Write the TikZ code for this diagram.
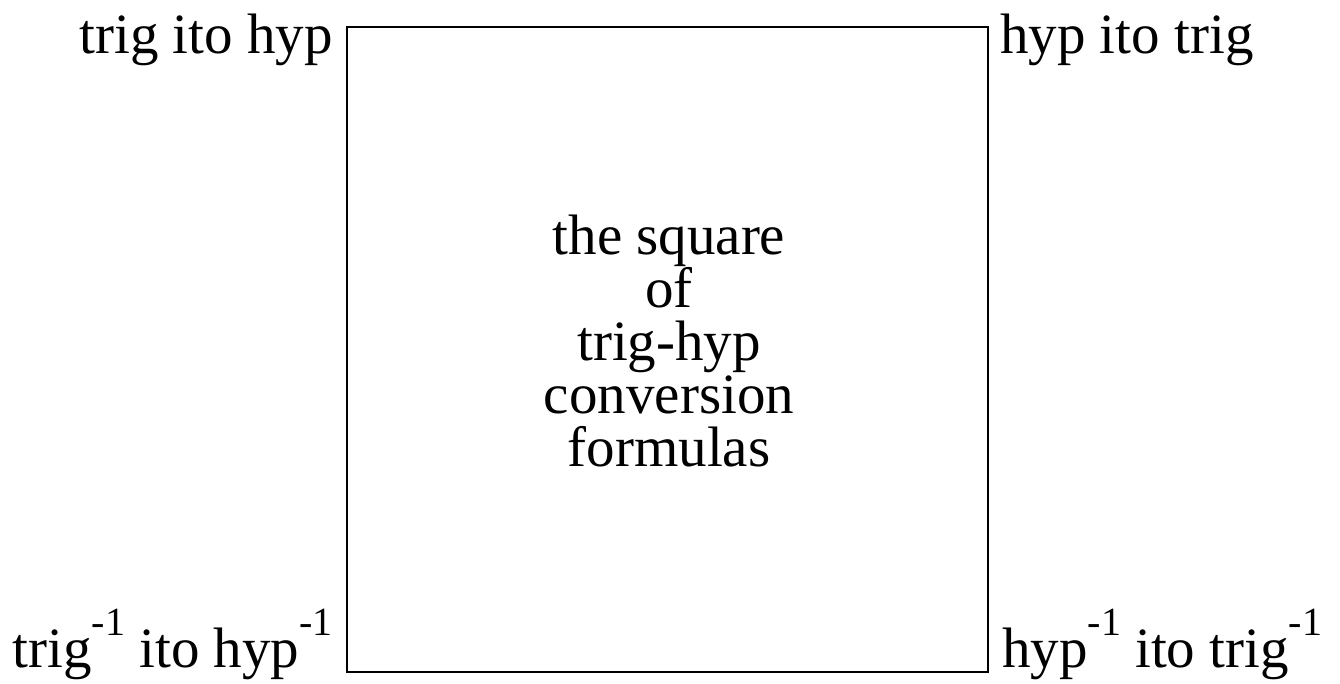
\documentclass[tikz,border=0pt]{standalone}
\usepackage{fontspec}
\setmainfont{Liberation Serif}
\usetikzlibrary{positioning}
\tikzset{
  sqframe/.style={draw=black, line width=2pt, minimum width=641pt, minimum height=645pt, inner sep=0pt},
  sqlabel/.style={font=\fontsize{57}{53}\selectfont, inner sep=0pt},
  sqtitle/.style={sqlabel, align=center}
}
\newcommand{\inv}{\raisebox{32pt}{\fontsize{40}{40}\selectfont -1}}

\begin{document}
\begin{tikzpicture}[x=1pt, y=1pt]
\useasboundingbox (0,0) rectangle (1340,-683);
\node[sqframe] (sq) at (667.5,-349.5) {};
\node[sqtitle] (title) at (669,-341) {the square\\of\\trig-hyp\\conversion\\formulas};
\node[sqlabel, anchor=base east] (tl) at (333,-53) {trig ito hyp};
\node[sqlabel, anchor=base west] (tr) at (1000,-53) {hyp ito trig};
\node[sqlabel, anchor=base east] (bl) at (333,-667) {trig\inv{} ito hyp\inv};
\node[sqlabel, anchor=base west] (br) at (1002,-667) {hyp\inv{} ito trig\inv};
\end{tikzpicture}
\end{document}
